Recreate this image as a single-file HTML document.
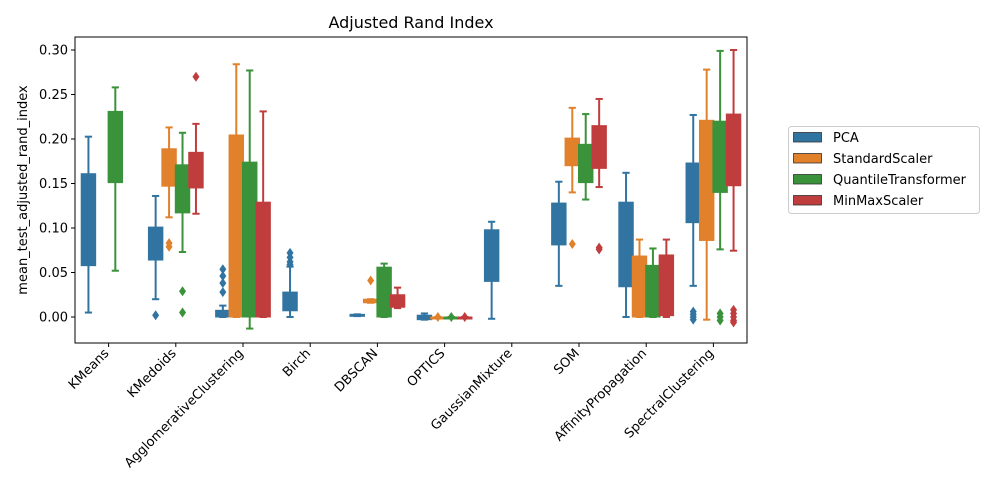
<!DOCTYPE html>
<html><head><meta charset="utf-8"><style>
body{margin:0;background:#fff;}
svg{display:block;font-family:"DejaVu Sans","Liberation Sans",sans-serif;}
</style></head><body>
<svg id="chart" width="1000" height="500" viewBox="0 0 1000 500"></svg>
<script>
const categories=["KMeans","KMedoids","AgglomerativeClustering","Birch","DBSCAN","OPTICS","GaussianMixture","SOM","AffinityPropagation","SpectralClustering"];
const seriesNames=["PCA","StandardScaler","QuantileTransformer","MinMaxScaler"];
const colors=["#3274a1","#e1812c","#3a923a","#c03d3e"];
const yTicks=[0,0.05,0.10,0.15,0.20,0.25,0.30];
const yTickLabels=["0.00","0.05","0.10","0.15","0.20","0.25","0.30"];
// each stat: [low, q1, q3, high] or null
const pcaStats=[[0.005,0.0577,0.161,0.2026],[0.020,0.064,0.101,0.136],[0,0,0.0075,0.0128],[0,0.007,0.028,0.0566],[0.001,0.001,0.003,0.003],[-0.003,-0.003,0.002,0.004],[-0.002,0.040,0.098,0.107],[0.035,0.081,0.128,0.152],[0,0.034,0.129,0.162],[0.035,0.106,0.173,0.227]];
const stdStats=[null,[0.112,0.147,0.189,0.213],[0,0,0.2045,0.284],null,[0.016,0.016,0.020,0.020],[0,0,0,0],null,[0.140,0.170,0.201,0.235],[0,0,0.0685,0.087],[-0.003,0.086,0.221,0.278]];
const qtStats=[[0.052,0.151,0.231,0.258],[0.073,0.117,0.171,0.207],[-0.013,0,0.174,0.277],null,[0,0,0.056,0.060],[0,0,0,0],null,[0.132,0.151,0.194,0.228],[0,0,0.058,0.077],[0.076,0.140,0.220,0.299]];
const mmStats=[null,[0.116,0.145,0.185,0.217],[0,0,0.129,0.231],null,[0.010,0.011,0.025,0.033],[0,0,0,0],null,[0.146,0.167,0.215,0.245],[0,0.0015,0.0697,0.087],[0.0745,0.1475,0.228,0.300]];
const pcaOut=[[],[0.002],[0.0536,0.046,0.038,0.028],[0.072,0.067,0.062,0.059],[],[],[],[],[],[0.006,0.003,0,-0.003]];
const stdOut=[[],[0.083,0.079],[],[],[0.041],[0],[],[0.082],[],[]];
const qtOut=[[],[0.029,0.005],[],[],[],[0],[],[],[],[0.004,0,-0.004]];
const mmOut=[[],[0.270],[],[],[],[0],[],[0.076,0.078],[],[0.008,0.004,0,-0.004,-0.006]];
const allStats=[pcaStats,stdStats,qtStats,mmStats];
const allOut=[pcaOut,stdOut,qtOut,mmOut];

const NS="http://www.w3.org/2000/svg";
const svg=document.getElementById('chart');
const L=75,R=747,T=37,B=343;
const y=v=>317-v*890;
const band=(R-L)/categories.length;
const xc=i=>L+band*(i+0.5);
function mk(tag,attrs,parent){const e=document.createElementNS(NS,tag);for(const k in attrs)e.setAttribute(k,attrs[k]);(parent||svg).appendChild(e);return e;}

const title=mk('text',{x:411,y:28,'text-anchor':'middle','font-size':16});
title.textContent="Adjusted Rand Index";



const yl=mk('text',{x:0,y:0,transform:'translate(27,190) rotate(-90)','text-anchor':'middle','font-size':13});
yl.textContent="mean_test_adjusted_rand_index";



yTicks.forEach((t,i)=>{
  const g=mk('g',{});
  
  
  mk('line',{x1:L-4,x2:L,y1:y(t),y2:y(t),stroke:'#000','stroke-width':1},g);
  const tx=mk('text',{x:L-7,y:y(t)+4.5,'text-anchor':'end','font-size':13},g);
  tx.textContent=yTickLabels[i];
});

categories.forEach((c,i)=>{
  const g=mk('g',{});
  
  
  mk('line',{x1:xc(i),x2:xc(i),y1:B,y2:B+4,stroke:'#000','stroke-width':1},g);
  const tx=mk('text',{x:0,y:0,transform:`translate(${xc(i)+1},${B+11}) rotate(-45)`,'text-anchor':'end','font-size':13},g);
  tx.textContent=c;
});

const offs=[-0.3,-0.1,0.1,0.3];
const bw=band*0.2+1;
allStats.forEach((stats,s)=>{
  stats.forEach((st,i)=>{
    const cx=xc(i)+offs[s]*band;
    const col=colors[s];
    if(st){
      const g=mk('g',{});
      
      
      const [lo,q1,q3,hi]=st;
      mk('line',{x1:cx,x2:cx,y1:y(hi),y2:y(q3),stroke:col,'stroke-width':2},g);
      mk('line',{x1:cx,x2:cx,y1:y(q1),y2:y(lo),stroke:col,'stroke-width':2},g);
      mk('line',{x1:cx-bw/4,x2:cx+bw/4,y1:y(hi),y2:y(hi),stroke:col,'stroke-width':2},g);
      mk('line',{x1:cx-bw/4,x2:cx+bw/4,y1:y(lo),y2:y(lo),stroke:col,'stroke-width':2},g);
      const h=Math.max(y(q1)-y(q3),2);
      mk('rect',{x:cx-bw/2,y:y(q3),width:bw,height:h,fill:col,stroke:col,'stroke-width':1},g);
    }
    allOut[s][i].forEach(v=>{
      const d=mk('path',{d:`M${cx},${y(v)-5} L${cx+3.5},${y(v)} L${cx},${y(v)+5} L${cx-3.5},${y(v)} Z`,fill:col});
      
      
    });
  });
});

const frame=mk('rect',{x:L,y:T,width:R-L,height:B-T,fill:'none',stroke:'#000','stroke-width':1});



const lg=mk('g',{});


mk('rect',{x:788.5,y:126.5,width:191,height:87,rx:3,fill:'#fff',stroke:'#ccc','stroke-width':1},lg);
seriesNames.forEach((n,k)=>{
  const e=mk('g',{},lg);
  
  
  const yy=137+k*21;
  mk('rect',{x:793.5,y:yy-4.5,width:28,height:9.5,fill:colors[k],stroke:'#333','stroke-width':0.8},e);
  const t=mk('text',{x:833,y:yy+5,'font-size':13},e);
  t.textContent=n;
});
</script>
</body></html>
